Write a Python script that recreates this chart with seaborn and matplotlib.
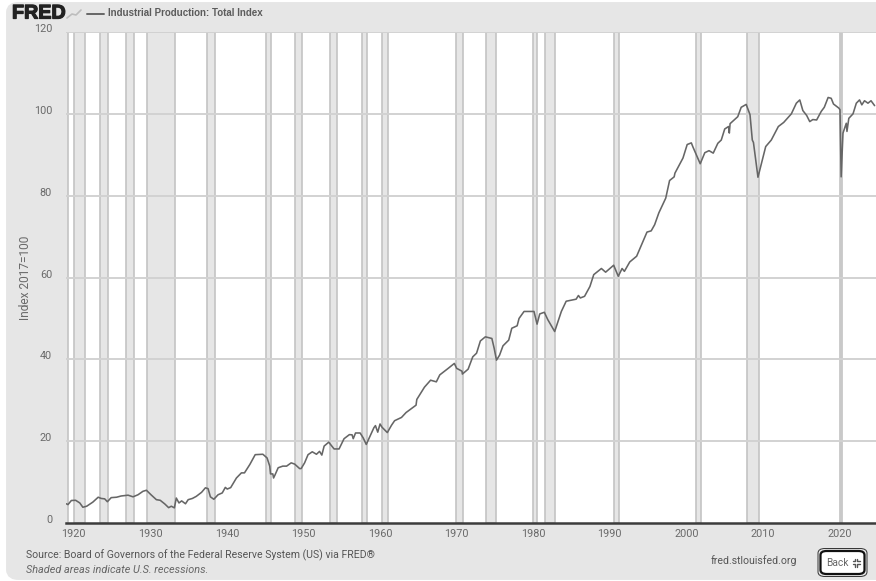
# FRED industrial production chart

import seaborn as sns
import matplotlib.pyplot as plt
import matplotlib.transforms as mtrans
import matplotlib.patheffects as pe
from matplotlib.lines import Line2D
from matplotlib.patches import FancyBboxPatch
import pandas as pd

# Values
years = [1919.04, 1919.26, 1919.7, 1920.26, 1920.8, 1921.2, 1921.7, 1922.5, 1923.2, 1923.6,
         1924.05, 1924.4, 1924.9, 1925.6, 1926.2, 1927.1, 1927.75, 1928.4, 1929.05, 1929.5,
         1930.1, 1930.8, 1931.3, 1931.9, 1932.4, 1932.75, 1933.15, 1933.4, 1933.75, 1934.1,
         1934.6, 1934.95, 1935.5, 1936.0, 1936.7, 1937.2, 1937.55, 1937.85, 1938.3, 1938.85,
         1939.4, 1939.8, 1940.05, 1940.5, 1941.25, 1941.9, 1942.3, 1943.0, 1943.7, 1944.7,
         1945.25, 1945.6, 1945.7, 1946.0, 1946.1, 1946.3, 1946.7, 1947.3, 1947.8, 1948.4,
         1948.85, 1949.5, 1949.7, 1950.15, 1950.6, 1951.15, 1951.7, 1952.1, 1952.4, 1952.7,
         1953.3, 1954.0, 1954.65, 1955.3, 1956.0, 1956.35, 1956.5, 1956.8, 1957.4, 1957.8,
         1958.2, 1959.2, 1959.4, 1959.7, 1960.0, 1960.26, 1960.95, 1961.5, 1961.9, 1962.8,
         1963.4, 1964.7, 1964.8, 1965.8, 1966.6, 1967.35, 1967.8, 1968.9, 1969.7, 1970.0,
         1970.7, 1970.75, 1971.5, 1972.1, 1972.6, 1973.1, 1973.75, 1974.6, 1974.9, 1975.2,
         1975.6, 1976.05, 1976.8, 1977.2, 1977.9, 1978.15, 1978.8, 1980.1, 1980.5, 1980.85,
         1981.45, 1981.9, 1982.8, 1983.67, 1984.3, 1985.6, 1985.9, 1986.15, 1986.7, 1987.4,
         1987.9, 1988.9, 1989.45, 1990.5, 1991.1, 1991.6, 1991.9, 1992.6, 1993.5, 1994.85,
         1995.4, 1995.85, 1996.4, 1997.3, 1997.8, 1998.4, 1998.5, 1999.55, 2000.1, 2000.64,
         2000.85, 2001.8, 2002.4, 2002.95, 2003.5, 2004.1, 2004.55, 2005.0, 2005.5, 2005.6,
         2005.7, 2006.7, 2007.15, 2007.8, 2008.3, 2008.6, 2008.75, 2009.34, 2009.8, 2010.35,
         2011.08, 2012.0, 2012.7, 2013.7, 2014.35, 2014.8, 2015.2, 2015.7, 2016.1, 2016.5,
         2017.0, 2017.6, 2018.0, 2018.5, 2018.9, 2019.2, 2019.9, 2020.05, 2020.2, 2020.44,
         2020.87, 2020.96, 2021.2, 2021.75, 2022.18, 2022.6, 2022.9, 2023.25, 2023.7, 2024.1,
         2024.57]
index_values = [4.7, 4.5, 5.5, 5.55, 4.9, 3.85, 4.1, 5.1, 6.3, 6.0,
                5.9, 5.2, 6.2, 6.3, 6.6, 6.8, 6.4, 6.9, 7.75, 8.0,
                6.9, 5.7, 5.55, 4.65, 3.75, 4.1, 3.7, 6.1, 4.9, 5.4,
                4.7, 5.7, 6.0, 6.5, 7.5, 8.6, 8.4, 6.4, 5.8, 6.9,
                7.35, 8.7, 8.3, 8.65, 11.0, 12.25, 12.25, 14.3, 16.7, 16.8,
                15.9, 13.9, 12.0, 12.0, 11.0, 11.8, 13.5, 13.9, 13.9, 14.7,
                14.4, 13.3, 13.3, 14.7, 16.7, 17.4, 16.8, 17.5, 16.6, 18.8,
                19.75, 18.1, 18.1, 20.6, 21.6, 21.55, 20.6, 22.0, 22.0, 20.8,
                19.2, 23.3, 23.8, 22.2, 24.2, 23.4, 22.1, 23.9, 25.0, 25.8,
                27.0, 28.8, 30.2, 33.2, 34.9, 34.5, 36.2, 37.8, 39.0, 37.8,
                37.1, 36.4, 37.6, 40.6, 41.5, 44.5, 45.5, 45.1, 42.7, 39.8,
                41.0, 43.3, 44.7, 47.6, 48.2, 50.0, 51.7, 51.7, 48.6, 51.1,
                51.5, 49.7, 46.8, 51.7, 54.2, 54.7, 55.6, 55.0, 55.4, 57.8,
                60.7, 62.2, 61.3, 63.0, 60.3, 62.2, 61.5, 63.8, 65.2, 71.1,
                71.4, 72.9, 75.8, 79.4, 83.7, 84.6, 85.5, 89.2, 92.5, 92.9,
                91.9, 87.8, 90.5, 91.0, 90.4, 92.8, 93.6, 96.3, 96.9, 95.3,
                97.6, 99.3, 101.6, 102.3, 99.8, 93.6, 93.0, 84.5, 87.9, 92.0,
                93.6, 96.9, 97.9, 100.0, 102.6, 103.4, 100.8, 99.6, 98.1, 98.6,
                98.5, 100.6, 101.6, 104.0, 103.8, 102.4, 101.4, 101.0, 84.6, 95.3,
                97.7, 95.7, 98.9, 100.0, 102.6, 103.4, 102.2, 103.2, 102.6, 103.2,
                102.0]

# NBER recessions as start and end
rec_start = [1918.7, 1920.0, 1923.4, 1926.8, 1929.6, 1937.4, 1945.1, 1948.85, 1953.5, 1957.6,
             1960.3, 1969.9, 1973.85, 1980.0, 1981.5, 1990.5, 2001.2, 2007.9, 2020.1]
rec_end = [1919.2, 1921.5, 1924.5, 1927.85, 1933.2, 1938.45, 1945.8, 1949.8, 1954.4, 1958.3,
           1961.1, 1970.85, 1975.2, 1980.5, 1982.85, 1991.2, 2001.85, 2009.45, 2020.3]

x_ticks = [1920, 1930, 1940, 1950, 1960, 1970, 1980, 1990, 2000, 2010, 2020]
y_ticks = [0, 20, 40, 60, 80, 100, 120]

W, H = 876, 581
BG = '#e6e6e6'
TXT = '#6a6a6a'

sns.set_theme(style="white")
plt.rcParams['font.family'] = ['Roboto', 'DejaVu Sans']

data = pd.DataFrame({'year': years, 'index': index_values})

fig = plt.figure(figsize=(W / 100, H / 100), dpi=100, facecolor='white')


def fx(px):
    return px / W


def fy(py):
    return 1 - py / H


# grey card behind the chart
fig.add_artist(FancyBboxPatch((fx(13), fy(573)), fx(880), 564 / H,
                              boxstyle="round,pad=0,rounding_size=0.006",
                              transform=fig.transFigure, fc=BG, ec=BG, lw=10, zorder=-5))

ax = fig.add_axes([fx(66), fy(523), fx(876 - 66), (523 - 32) / H])
ax.set_facecolor('white')

for s, e in zip(rec_start, rec_end):
    ax.axvspan(s, e, facecolor='#e6e6e6', edgecolor='#c4c4c4', lw=1.2, zorder=1)

for y in y_ticks[1:]:
    ax.axhline(y, color='#d2d2d2', lw=1.4, zorder=1.5)

sns.lineplot(x='year', y='index', data=data, estimator=None, color='#666666',
             lw=1.15, ax=ax, zorder=3)

ax.set_xlim(1919.0, 2024.75)
ax.set_ylim(0, 120)
ax.set_xlabel('')
ax.set_ylabel('Index 2017=100', color=TXT, fontsize=8.6)
ax.yaxis.set_label_coords((32 - 66) / (W - 66), 0.5)

ax.set_xticks(x_ticks)
ax.set_yticks(y_ticks)
ax.tick_params(axis='x', length=0, pad=4, labelsize=7.8, labelcolor=TXT)
ax.tick_params(axis='y', length=0, pad=10, labelsize=7.8, labelcolor=TXT)
shift = mtrans.ScaledTranslation(0, 4 / 100, fig.dpi_scale_trans)
for lab in ax.get_yticklabels():
    lab.set_transform(lab.get_transform() + shift)

for side in ['top', 'right', 'left']:
    ax.spines[side].set_visible(False)
ax.spines['bottom'].set_color('#3c3c3c')
ax.spines['bottom'].set_linewidth(1.8)

# header
logo = fig.text(fx(12), fy(13), 'FRED', family='Liberation Sans', weight='bold', fontsize=14.2,
                color='#222222', va='center')
logo.set_path_effects([pe.withStroke(linewidth=0.9, foreground='#222222')])
fig.add_artist(Line2D([fx(67), fx(72), fx(76), fx(81)], [fy(18), fy(14), fy(15), fy(10)],
                      color='#bdbdbd', lw=1.2))
fig.add_artist(Line2D([fx(87), fx(104)], [fy(14), fy(14)], color='#666666', lw=1.4))
fig.text(fx(108), fy(13.5), 'Industrial Production: Total Index', family='Liberation Sans',
         weight='bold', fontsize=7.05, color='#5c5c5c', va='center')

# footer
fig.text(fx(26), fy(555), 'Source: Board of Governors of the Federal Reserve System (US) via FRED®',
         fontsize=7.55, color='#555555', va='center')
fig.text(fx(26), fy(570), 'Shaded areas indicate U.S. recessions.', fontsize=7.8,
         style='italic', color='#666666', va='center')
fig.text(fx(711), fy(561), 'fred.stlouisfed.org', fontsize=7.6, color='#555555', va='center')

# back button
fig.add_artist(FancyBboxPatch((fx(818), fy(576.5)), fx(49), 28 / H,
                              boxstyle="round,pad=0,rounding_size=0.008",
                              transform=fig.transFigure, fc='none', ec='#333333', lw=0.7))
fig.add_artist(FancyBboxPatch((fx(820.5), fy(574)), fx(44), 23 / H,
                              boxstyle="round,pad=0,rounding_size=0.007",
                              transform=fig.transFigure, fc='white', ec='#111111', lw=1.6))
fig.text(fx(826), fy(562.5), 'Back', fontsize=7.3, color='#666666', va='center')
for cx, cy, dx, dy in [(855, 561, -1, -1), (857, 561, 1, -1), (855, 564, -1, 1), (857, 564, 1, 1)]:
    fig.add_artist(Line2D([fx(cx + 2.5 * dx), fx(cx), fx(cx)],
                          [fy(cy), fy(cy), fy(cy + 2.5 * dy)], color='#555555', lw=1.0))

fig.savefig('out.png', dpi=100, facecolor='white')
